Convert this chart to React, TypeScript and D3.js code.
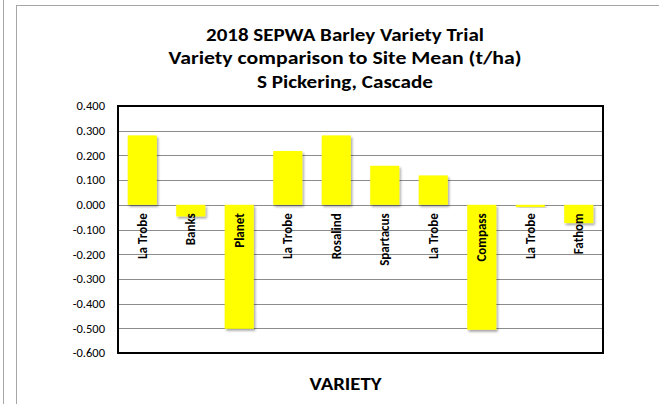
import { useEffect, useRef } from 'react';
import * as d3 from 'd3';

// Variety comparison to site mean (t/ha)
const varieties = ['La Trobe', 'Banks', 'Planet', 'La Trobe', 'Rosalind', 'Spartacus', 'La Trobe', 'Compass', 'La Trobe', 'Fathom'];
const values = [0.281, -0.047, -0.502, 0.218, 0.281, 0.158, 0.119, -0.506, -0.009, -0.074];
const yTicks = [0.4, 0.3, 0.2, 0.1, 0, -0.1, -0.2, -0.3, -0.4, -0.5, -0.6];
const titleLines = ['2018 SEPWA Barley Variety Trial', 'Variety comparison to Site Mean (t/ha)', 'S Pickering, Cascade'];
const titleWidths = [278, 353, 176];

const W = 659;
const H = 404;
const FONT = "Carlito, Calibri, Lato, 'Open Sans', sans-serif";

export default function App() {
  const svgRef = useRef<SVGSVGElement>(null);

  useEffect(() => {
    document.body.style.margin = '0';
    if (!svgRef.current) return;
    const svg = d3.select(svgRef.current);
    svg.selectAll('*').remove();

    const plot = { left: 118, right: 603, top: 106, bottom: 353 };

    const x = d3.scaleBand<number>()
      .domain(varieties.map((_, i) => i))
      .range([plot.left, plot.right])
      .paddingInner(0.4)
      .paddingOuter(0.2);

    const y = d3.scaleLinear().domain([-0.6, 0.4]).range([plot.bottom, plot.top]);

    // drop shadow for bars
    const defs = svg.append('defs');
    const f = defs.append('filter').attr('id', 'barShadow')
      .attr('x', '-20%').attr('y', '-20%').attr('width', '150%').attr('height', '150%');
    f.append('feDropShadow')
      .attr('dx', 1.5).attr('dy', 2)
      .attr('stdDeviation', 1.2)
      .attr('flood-color', '#000')
      .attr('flood-opacity', 0.35);

    svg.append('rect').attr('width', W).attr('height', H).attr('fill', '#fff');

    // page-side line and chart frame
    svg.append('line')
      .attr('x1', 3.5).attr('x2', 3.5).attr('y1', 0).attr('y2', H)
      .attr('stroke', '#a6a6a6').attr('stroke-width', 1);
    svg.append('rect')
      .attr('x', 16.5).attr('y', 5.5).attr('width', 700).attr('height', 420)
      .attr('fill', '#fff').attr('stroke', '#a6a6a6').attr('stroke-width', 1);

    // title (three lines, stretched to the reference widths)
    titleLines.forEach((t, i) => {
      svg.append('text')
        .attr('x', 345)
        .attr('y', 40.5 + i * 23.5)
        .attr('text-anchor', 'middle')
        .attr('textLength', titleWidths[i])
        .attr('lengthAdjust', 'spacingAndGlyphs')
        .style('font-family', FONT)
        .style('font-size', '17px')
        .style('font-weight', 'bold')
        .attr('fill', '#000')
        .text(t);
    });

    // gridlines
    svg.append('g')
      .selectAll('line')
      .data(yTicks)
      .enter()
      .append('line')
      .attr('x1', plot.left).attr('x2', plot.right)
      .attr('y1', d => Math.round(y(d)) + 0.5)
      .attr('y2', d => Math.round(y(d)) + 0.5)
      .attr('stroke', '#8c8c8c')
      .attr('stroke-width', 1);

    // y axis labels
    svg.append('g')
      .selectAll('text')
      .data(yTicks)
      .enter()
      .append('text')
      .attr('x', 105)
      .attr('y', d => y(d))
      .attr('dy', '0.35em')
      .attr('text-anchor', 'end')
      .style('font-family', FONT)
      .style('font-size', '12.5px')
      .attr('fill', '#000')
      .text(d => d3.format('.3f')(d).replace('−', '-'));

    // bars
    svg.append('g')
      .selectAll('rect')
      .data(values)
      .enter()
      .append('rect')
      .attr('x', (_, i) => x(i)!)
      .attr('y', d => y(Math.max(0, d)))
      .attr('width', x.bandwidth())
      .attr('height', d => Math.abs(y(d) - y(0)))
      .attr('fill', '#ffff00')
      .attr('filter', 'url(#barShadow)');

    // category labels, rotated, just below the zero line
    svg.append('g')
      .selectAll('text')
      .data(varieties)
      .enter()
      .append('text')
      .attr('transform', (_, i) => `translate(${x(i)! + x.bandwidth() / 2},${y(0) + 8.5}) rotate(-90)`)
      .attr('text-anchor', 'end')
      .attr('dy', '0.35em')
      .style('font-family', FONT)
      .style('font-size', '13px')
      .style('font-weight', 'bold')
      .attr('fill', '#000')
      .text(d => d);

    // plot border
    svg.append('rect')
      .attr('x', plot.left).attr('y', plot.top)
      .attr('width', plot.right - plot.left)
      .attr('height', plot.bottom - plot.top)
      .attr('fill', 'none')
      .attr('stroke', '#000')
      .attr('stroke-width', 2);

    // x axis title
    svg.append('text')
      .attr('x', 345.5)
      .attr('y', 390)
      .attr('text-anchor', 'middle')
      .attr('textLength', 72)
      .attr('lengthAdjust', 'spacingAndGlyphs')
      .style('font-family', FONT)
      .style('font-size', '17.5px')
      .style('font-weight', 'bold')
      .attr('fill', '#000')
      .text('VARIETY');
  }, []);

  return (
    <div style={{ width: W, height: H }}>
      <svg ref={svgRef} width={W} height={H} style={{ display: 'block' }}></svg>
    </div>
  );
}
